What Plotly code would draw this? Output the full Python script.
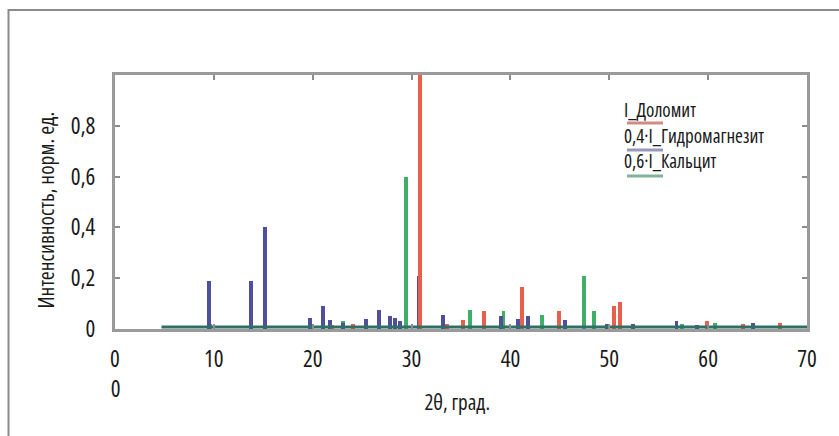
import plotly.graph_objects as go

# ---- data ----
dolomite_pos = [22.0, 24.1, 30.85, 33.6, 35.2, 37.3, 41.2, 44.9, 50.5, 51.1, 59.9, 63.5, 67.3]
dolomite_int = [0.015, 0.02, 1.0, 0.02, 0.035, 0.07, 0.165, 0.07, 0.09, 0.105, 0.03, 0.02, 0.025]

hydromag_pos = [9.5, 13.75, 15.2, 19.7, 21.05, 21.7, 23.1, 25.4, 26.7, 27.8, 28.3, 28.8,
                30.75, 33.2, 39.0, 40.8, 41.8, 45.5, 49.8, 52.4, 56.8, 58.9, 64.5, 67.3]
hydromag_int = [0.19, 0.19, 0.40, 0.045, 0.09, 0.035, 0.025, 0.04, 0.075, 0.05, 0.045, 0.03,
                0.21, 0.055, 0.05, 0.04, 0.05, 0.035, 0.02, 0.02, 0.03, 0.015, 0.025, 0.02]

calcite_pos = [9.6, 23.1, 29.4, 35.9, 39.3, 43.2, 47.45, 48.45, 57.4, 60.7]
calcite_int = [0.02, 0.03, 0.60, 0.075, 0.07, 0.055, 0.21, 0.07, 0.02, 0.025]

baseline_x = [4.7, 70.0]
baseline_y = [0.008, 0.008]

x_tickvals = [0, 10, 20, 30, 40, 50, 60, 70]
y_tickvals = [0, 0.2, 0.4, 0.6, 0.8]
y_ticktext = ["0", "0,2", "0,4", "0,6", "0,8"]

series_names = ["I_Доломит", "0,4·I_Гидромагнезит", "0,6·I_Кальцит"]

FONT = "Open Sans, Roboto, DejaVu Sans Condensed, sans-serif"
C_RED = "#e8604c"
C_BLUE = "#4f4f9e"
C_GREEN = "#3fae66"
C_BASE = "#2f6f66"


def f(size):
    return dict(size=size, family=FONT, color="#1a1a1a")


L, R, T, B = 115, 32, 75, 107
W, H = 839, 436
pw, ph = W - L - R, H - T - B
X0, X1, Y0, Y1 = 0.0, 70.0, 0.0, 1.0


def px(xp):
    return (xp - L) / pw


def py(yp):
    return (H - B - yp) / ph


def dx(xp):
    return X0 + px(xp) * (X1 - X0)


def dy(yp):
    return Y0 + py(yp) * (Y1 - Y0)


fig = go.Figure()

fig.add_trace(go.Scatter(x=baseline_x, y=baseline_y, mode="lines",
                         line=dict(color=C_BASE, width=3), showlegend=False, hoverinfo="skip"))
fig.add_trace(go.Bar(x=calcite_pos, y=calcite_int, width=0.4, marker=dict(color=C_GREEN, line_width=0),
                     name=series_names[2], showlegend=False))
fig.add_trace(go.Bar(x=hydromag_pos, y=hydromag_int, width=0.4, marker=dict(color=C_BLUE, line_width=0),
                     name=series_names[1], showlegend=False))
fig.add_trace(go.Bar(x=dolomite_pos, y=dolomite_int, width=0.4, marker=dict(color=C_RED, line_width=0),
                     name=series_names[0], showlegend=False))

# legend text (left-anchored so condensed text keeps its left edge)
leg_text_y = [112, 138, 163]
leg_line_y = [123, 150, 176]
leg_colors = ["#d48a84", "#9a98b8", "#7fb39a"]
fig.add_trace(go.Scatter(x=[dx(624)] * 3, y=[dy(v) for v in leg_text_y], mode="text",
                         text=series_names, textposition="middle right", textfont=f(19),
                         cliponaxis=False, showlegend=False, hoverinfo="skip"))

fig.update_layout(
    width=W, height=H,
    margin=dict(l=L, r=R, t=T, b=B),
    barmode="overlay",
    bargap=0,
    plot_bgcolor="white", paper_bgcolor="white",
    font=dict(family=FONT, color="#1a1a1a"),
    showlegend=False,
)
fig.update_xaxes(range=[X0, X1], tickvals=x_tickvals, ticks="inside", ticklen=5, tickwidth=2,
                 tickcolor="#8c8c8c", showline=True, linecolor="#9a9a9a", linewidth=3, mirror="ticks",
                 showgrid=False, zeroline=False, tickfont=f(23), ticklabelstandoff=7)
fig.update_yaxes(range=[Y0, Y1], tickvals=y_tickvals, ticktext=y_ticktext, ticks="inside", ticklen=5,
                 tickwidth=2, tickcolor="#8c8c8c", showline=True, linecolor="#9a9a9a", linewidth=3,
                 mirror="ticks", showgrid=False, zeroline=False, tickfont=f(23), ticklabelstandoff=12)

ann = []
ann.append(dict(x=px(457), y=py(402), xref="paper", yref="paper", text="2θ, град.", showarrow=False,
                font=f(21), xanchor="center", yanchor="middle"))
ann.append(dict(x=px(45), y=py(210), xref="paper", yref="paper", text="Интенсивность, норм. ед.",
                showarrow=False, textangle=-90, font=f(21.5), xanchor="center", yanchor="middle"))
ann.append(dict(x=0, y=py(388), xref="x", yref="paper", text="0", showarrow=False,
                font=f(23), xanchor="center", yanchor="middle", borderpad=0))

shapes = []
for ly, c in zip(leg_line_y, leg_colors):
    shapes.append(dict(type="line", xref="paper", yref="paper", x0=px(627), x1=px(663),
                       y0=py(ly), y1=py(ly), line=dict(color=c, width=3)))

# outer frame (extends past right and bottom edges)
shapes.append(dict(type="rect", xref="paper", yref="paper", x0=px(8.5), x1=px(860),
                   y0=py(460), y1=py(10), line=dict(color="#8a8a8a", width=2), layer="below"))

fig.update_layout(annotations=ann, shapes=shapes)

post = """
document.body.style.margin = '0';
document.body.style.overflow = 'hidden';
var css = document.createElement('style');
css.textContent = '.js-plotly-plot text { font-stretch: condensed !important; }';
document.head.appendChild(css);
"""
fig.write_html("out.html", post_script=post, config={"displayModeBar": False})
